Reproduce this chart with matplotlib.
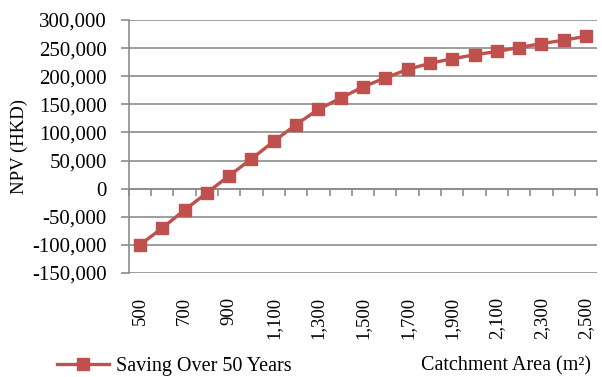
import matplotlib
matplotlib.use("Agg")
import matplotlib.pyplot as plt
from matplotlib.ticker import FuncFormatter

plt.rcParams['font.family'] = ['Liberation Serif', 'DejaVu Serif']

area = [500, 600, 700, 800, 900, 1000, 1100, 1200, 1300, 1400, 1500,
        1600, 1700, 1800, 1900, 2000, 2100, 2200, 2300, 2400, 2500]
npv = [-100000, -70000, -38000, -7500, 23000, 53000, 84000, 114000, 141000, 161000, 181000,
       197000, 212000, 223000, 231000, 238000, 244000, 251000, 258000, 264000, 271000]
series_name = "Saving Over 50 Years"

red = "#C0504D"
grid_c = "#8C8C8C"

fig = plt.figure(figsize=(6.02, 3.77), dpi=100)
ax = fig.add_axes([0.214, 0.276, 0.778, 0.671])

idx = list(range(len(area)))
line, = ax.plot(idx, npv, color=red, lw=2.4, marker='s', ms=9,
                markeredgecolor=red, label=series_name, zorder=3)

ax.set_ylim(-150000, 300000)
ax.set_yticks(range(-150000, 300001, 50000))
ax.yaxis.set_major_formatter(FuncFormatter(lambda v, p: f"{int(v):,}"))
ax.grid(axis='y', color=grid_c, lw=1.2)
ax.set_axisbelow(True)
ax.tick_params(axis='y', labelsize=15, length=6, color=grid_c, width=1.2, pad=10)

ax.set_xlim(-0.5, len(area) - 0.5)
ax.spines['bottom'].set_position(('data', 0))
ax.spines['bottom'].set_color(grid_c)
ax.spines['bottom'].set_linewidth(1.2)
ax.spines['left'].set_color(grid_c)
ax.spines['left'].set_linewidth(1.2)
ax.spines['top'].set_visible(False)
ax.spines['right'].set_visible(False)
ax.set_xticks([i - 0.5 for i in range(len(area) + 1)])
ax.set_xticklabels([])
ax.tick_params(axis='x', length=5, color=grid_c, width=1.2)

sec = ax.secondary_xaxis(0.0)
sec.set_xticks(idx[::2])
sec.set_xticklabels([f"{a:,}" for a in area[::2]], rotation=90, fontsize=13.5)
sec.tick_params(length=0, pad=17)
sec.spines['bottom'].set_visible(False)

ax.set_ylabel("NPV (HKD)", fontsize=13.5, labelpad=3)

fig.text(0.70, 1 - 366 / 377, "Catchment Area (m²)", fontsize=14.5, ha='left', va='center')
fig.legend(handles=[line], loc='center left', bbox_to_anchor=(57 / 602, 1 - 366 / 377),
           frameon=False, fontsize=14.5, handlelength=2.6, handletextpad=0.35,
           borderpad=0, borderaxespad=0, markerscale=0.9)

fig.savefig("out.png", dpi=100)
